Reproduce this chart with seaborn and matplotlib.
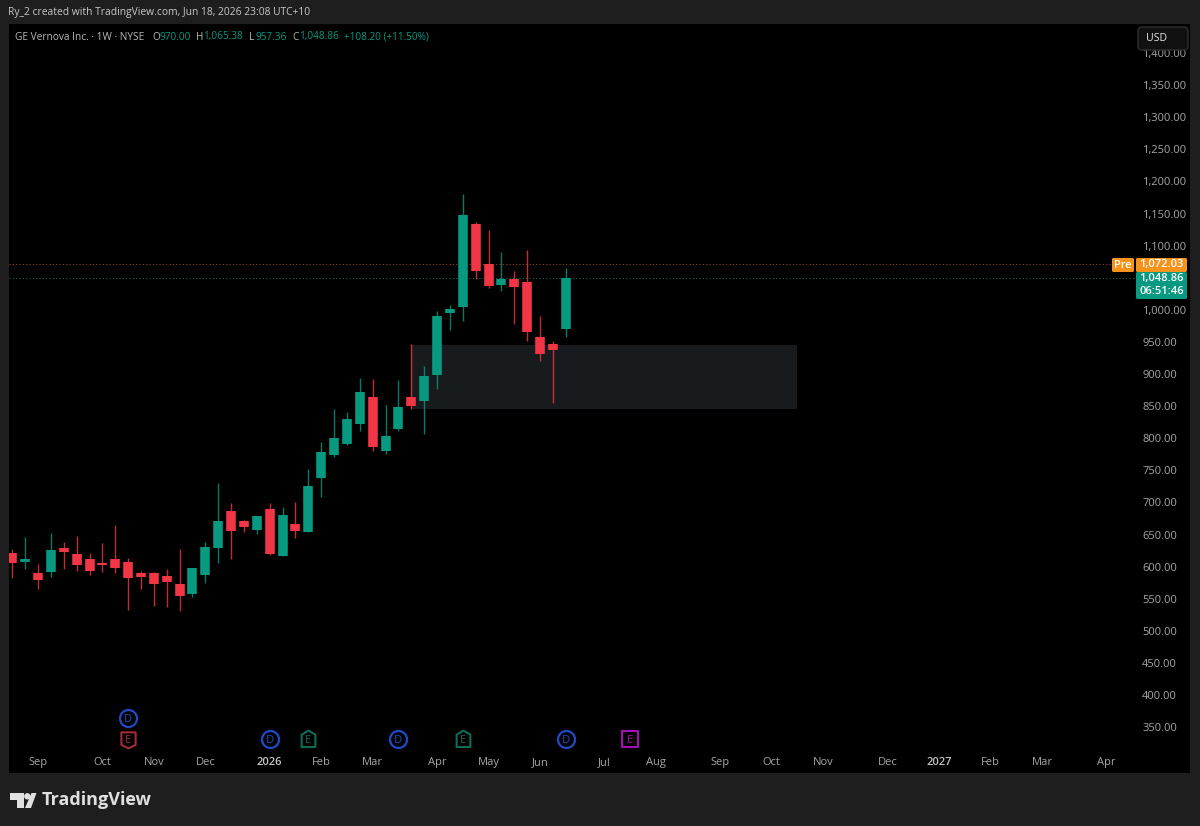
import matplotlib
matplotlib.use("Agg")
import matplotlib.pyplot as plt
from matplotlib.patches import Rectangle, FancyBboxPatch, Polygon, Circle
from matplotlib.path import Path
import pandas as pd
import seaborn as sns

# Weekly OHLC for GE Vernova, oldest week first
opens = [621.2, 606.7, 590.1, 591.6, 629.0, 619.7, 611.4, 605.1, 611.9, 607.7, 590.6,
         590.6, 584.9, 572.9, 556.8, 587.5, 629.0, 686.6, 671.0, 657.0, 689.8, 617.1,
         666.9, 653.9, 738.5, 774.3, 791.5, 821.6, 864.2, 779.5, 814.3, 864.2, 858.5,
         899.0, 995.6, 1003.9, 1133.7, 1070.8, 1038.7, 1047.5, 1043.8, 957.7, 946.2, 970.0]
highs = [627.4, 646.1, 604.1, 651.9, 638.4, 648.2, 620.7, 636.3, 664.3, 612.9, 592.7,
         592.1, 596.3, 626.9, 598.4, 638.4, 729.7, 699.6, 672.6, 678.9, 698.6, 692.3,
         700.7, 751.5, 794.0, 845.0, 840.8, 893.8, 892.2, 851.7, 890.7, 947.0, 912.5,
         998.2, 1007.0, 1180.4, 1137.3, 1124.3, 1090.0, 1059.9, 1093.7, 990.9, 950.9, 1065.38]
lows = [581.8, 595.8, 565.1, 583.8, 595.8, 593.2, 587.5, 592.1, 590.6, 533.0, 565.1,
        538.7, 536.6, 530.4, 553.2, 574.5, 606.2, 611.9, 653.4, 650.8, 618.6, 616.0,
        644.1, 653.9, 708.9, 770.7, 788.9, 811.7, 780.6, 775.9, 810.7, 846.0, 806.5,
        877.2, 969.0, 982.6, 1047.5, 1033.5, 1029.3, 977.9, 952.0, 919.8, 854.9, 957.36]
closes = [605.1, 611.9, 579.7, 625.4, 622.8, 602.5, 593.2, 602.5, 597.9, 582.3, 583.8,
          572.9, 575.5, 554.2, 598.4, 630.6, 671.0, 656.0, 661.2, 678.9, 619.7, 680.4,
          656.0, 726.0, 778.5, 800.8, 829.4, 872.0, 786.3, 803.4, 849.1, 850.7, 897.4,
          990.4, 1000.7, 1147.7, 1059.9, 1037.1, 1047.5, 1035.5, 966.0, 931.2, 937.4, 1048.86]

price_ticks = [1400, 1350, 1300, 1250, 1200, 1150, 1100, 1000, 950, 900, 850, 800,
               750, 700, 650, 600, 550, 500, 450, 400, 350]
month_weeks = [2, 7, 11, 15, 20, 24, 28, 33, 37, 41, 46, 50, 55, 59, 63, 68, 72, 76, 80, 85]
month_labels = ["Sep", "Oct", "Nov", "Dec", "2026", "Feb", "Mar", "Apr", "May", "Jun",
                "Jul", "Aug", "Sep", "Oct", "Nov", "Dec", "2027", "Feb", "Mar", "Apr"]

# Dividend and earnings flags along the bottom of the pane
event_weeks = [9, 9, 20, 23, 30, 35, 43, 48]
event_prices = [364, 331.5, 331.5, 331.5, 331.5, 331.5, 331.5, 331.5]
event_kinds = ["D", "E", "D", "E", "D", "E", "D", "E"]
event_shapes = ["ring", "shield", "ring", "house", "ring", "house", "ring", "square"]
event_colors = ["#2149c4", "#a02c3a", "#2149c4", "#0f6a58", "#2149c4", "#0f6a58", "#2149c4", "#a30fb5"]

zone_weeks = (31, 61)
zone_prices = (846, 945)
pre_price = 1072.03
last_price = 1048.86

UP, DOWN = "#089981", "#F23645"
PANEL, BLACK = "#1e1e1e", "#000000"
W, H = 1200, 826

sns.set_theme(style="dark", rc={"figure.facecolor": PANEL, "axes.facecolor": BLACK,
                                "axes.grid": False})
plt.rcParams["font.family"] = ["Open Sans", "DejaVu Sans"]

fig = plt.figure(figsize=(W / 100, H / 100), dpi=100)
L, R, T, B = 9, 1190, 24, 773
ax = fig.add_axes([L / W, 1 - B / H, (R - L) / W, (B - T) / H])
ax.set_xlim(-0.256, 91.5)
ax.set_ylim(278.5, 1445.2)


def fx(px):
    return px / W


def fy(px):
    return 1 - px / H


weeks = list(range(len(opens)))
direction = ["up" if c >= o else "down" for o, c in zip(opens, closes)]
wick_rows, body_rows = [], []
for w, o, h, l, c, d in zip(weeks, opens, highs, lows, closes, direction):
    wick_rows += [(w, l, d), (w, h, d)]
    body_rows += [(w, o, d), (w, c, d)]
wicks = pd.DataFrame(wick_rows, columns=["week", "price", "dir"])
bodies = pd.DataFrame(body_rows, columns=["week", "price", "dir"])
palette = {"up": UP, "down": DOWN}

ax.add_patch(Rectangle((zone_weeks[0], zone_prices[0]), zone_weeks[1] - zone_weeks[0],
                       zone_prices[1] - zone_prices[0], fc="#181b1d", ec="none", zorder=1))
ax.axhline(pre_price, xmax=(1112 - L) / (R - L), color="#8a4a22", lw=0.8, ls=(0, (1, 2)), zorder=1.5)
ax.axhline(last_price, xmax=(1136 - L) / (R - L), color="#0f6a5a", lw=0.8, ls=(0, (1, 2)), zorder=1.5)

sns.lineplot(data=wicks, x="week", y="price", hue="dir", units="week", estimator=None,
             sort=False, palette=palette, legend=False, lw=1.0, alpha=0.8, ax=ax, zorder=3,
             solid_capstyle="butt")
sns.lineplot(data=bodies, x="week", y="price", hue="dir", units="week", estimator=None,
             sort=False, palette=palette, legend=False, lw=6.9, ax=ax, zorder=4,
             solid_capstyle="butt")

ax.set_xlabel("")
ax.set_ylabel("")
for s in ax.spines.values():
    s.set_visible(False)

ax.yaxis.tick_right()
ax.set_yticks(price_ticks)
ax.set_yticklabels([f"{p:,.2f}" for p in price_ticks])
ax.tick_params(axis="y", length=0, pad=-34.5, labelsize=8, labelcolor="#a6a6a6")
ax.set_xticks(month_weeks)
ax.set_xticklabels(month_labels)
ax.tick_params(axis="x", length=0, pad=-11.5, labelsize=8, labelcolor="#a6a6a6")
for t in ax.get_xticklabels():
    if t.get_text() in ("2026", "2027"):
        t.set_fontweight("semibold")
        t.set_color("#c4c4c4")

# Event flags: ring for dividends, badge for earnings
badges = {
    "shield": Path([(-1, 1), (1, 1), (1, -0.75), (0, -1.25), (-1, -0.75), (-1, 1)], closed=True),
    "house": Path([(-1, 0.7), (0, 1.3), (1, 0.7), (1, -1.1), (-1, -1.1), (-1, 0.7)], closed=True),
    "square": "s",
}
for w, p, k, shape, c in zip(event_weeks, event_prices, event_kinds, event_shapes, event_colors):
    if shape == "ring":
        ax.scatter([w], [p], s=150, marker="o", fc=BLACK, ec=c, lw=1.6, zorder=5)
    else:
        size = 130 if shape == "square" else 165
        ax.scatter([w], [p], s=size, marker=badges[shape], fc=BLACK, ec=c, lw=1.5, zorder=5)
    ax.text(w, p, k, color=c, fontsize=8, ha="center", va="center_baseline", zorder=6)


def txt(px, py, s, color, size=8, weight="normal", ha="left"):
    fig.text(fx(px), fy(py), s, color=color, fontsize=size, fontweight=weight, ha=ha, va="center")


def box(x0, y0, x1, y1, fc, ec="none", radius=1.5):
    fig.add_artist(FancyBboxPatch((x0, H - y1), x1 - x0, y1 - y0,
                                  boxstyle=f"round,pad=0,rounding_size={radius}",
                                  transform=None, fc=fc, ec=ec, lw=1, zorder=8))


# Header strip and symbol line
txt(8, 12.5, "Ry_2 created with TradingView.com, Jun 18, 2026 23:08 UTC+10", "#c9c9c9", 7.4)
txt(15, 37, "GE Vernova Inc. · 1W · NYSE", "#b8b8b8", 7.3)
legend_parts = [(152, "O", "#b8b8b8"), (159, "970.00", UP), (196, "H", "#b8b8b8"),
                (203, "1,065.38", UP), (249, "L", "#b8b8b8"), (255, "957.36", UP),
                (292, "C", "#b8b8b8"), (299, "1,048.86", UP), (344, "+108.20 (+11.50%)", UP)]
for px, s, c in legend_parts:
    txt(px, 37, s, c, 7.2)

# Currency button and price tags
box(1138, 27, 1188, 50, "#111111", "#2e2e2e", 4)
fig.text(fx(1146), fy(38.5), "USD", color="#e6e6e6", fontsize=7.6, fontweight="medium", va="center", zorder=9)
box(1112, 258, 1134, 272, "#f7931a")
box(1136, 258, 1187, 272, "#f7931a")
box(1136, 272, 1187, 299, UP)
for px, py, s in [(1123, 265, "Pre"), (1161.5, 265, "1,072.03"), (1161.5, 279, "1,048.86"),
                  (1161.5, 291.5, "06:51:46")]:
    fig.text(fx(px), fy(py), s, color="#ffffff", fontsize=8, fontweight="semibold",
             ha="center", va="center", zorder=9)

# Brand mark in the footer
logo_color = "#e0e0e0"
fig.add_artist(Polygon([(10, H - 793), (24, H - 793), (24, H - 808), (17, H - 808),
                        (17, H - 800), (10, H - 800)], transform=None, fc=logo_color, ec="none"))
fig.add_artist(Circle((27.3, H - 796.3), 3.2, transform=None, fc=logo_color, ec="none"))
fig.add_artist(Polygon([(31.5, H - 793), (36.5, H - 793), (31, H - 808), (25, H - 808)],
                       transform=None, fc=logo_color, ec="none"))
fig.text(fx(42), fy(800), "TradingView", color=logo_color, fontsize=13, fontweight="bold",
         ha="left", va="center", family=["Open Sans", "DejaVu Sans"])

fig.savefig("out.png", dpi=100, facecolor=fig.get_facecolor())
